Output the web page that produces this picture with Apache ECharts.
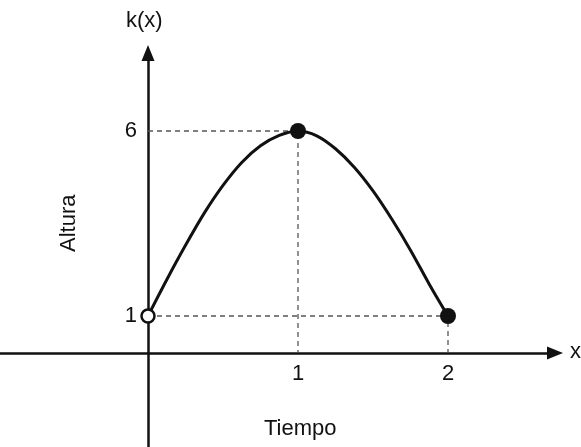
<!DOCTYPE html>
<html lang="es">
<head>
  <meta charset="UTF-8">
  <title>k(x)</title>
  <style>
    * { margin: 0; padding: 0; }
    body { background: #fff; }
    #chart { width: 581px; height: 447px; }
  </style>
</head>
<body>
  <div id="chart"></div>
  <script src="https://cdn.jsdelivr.net/npm/echarts@6/dist/echarts.min.js"></script>
  <script>
    // curve k(x)
    var curveX = [0, 0.125, 0.25, 0.375, 0.5, 0.625, 0.75, 0.875, 1, 1.125, 1.25, 1.375, 1.5, 1.625, 1.75, 1.875, 2]
    var curveY = [1, 1.98, 2.91, 3.78, 4.53, 5.15, 5.6, 5.88, 6, 5.87, 5.52, 5.02, 4.38, 3.62, 2.78, 1.86, 1]
    var xTicks = [1, 2]
    var yTicks = [1, 6]
    var guideTop = [[0, 6], [1, 6], [1, 0]]
    var guideLow = [[0, 1], [2, 1], [2, 0]]
    var filledPts = [[1, 6], [2, 1]]
    var openPts = [[0, 1]]

    var font = 'Liberation Sans, Arial, sans-serif'
    var ink = '#111'

    var curve = curveX.map(function (x, i) { return [x, curveY[i]] })

    var chart = echarts.init(document.getElementById('chart'))
    chart.setOption({
      animation: false,
      grid: { left: 0, right: 26, top: 53, bottom: 0, containLabel: false, outerBoundsMode: 'none' },
      xAxis: {
        type: 'value',
        position: 'bottom',
        offset: -94,   // puts the axis on y = 0
        min: -148 / 150,
        max: 407 / 150,
        splitLine: { show: false },
        axisTick: { show: false },
        axisLine: {
          onZero: false,
          symbol: ['none', 'triangle'],
          symbolSize: [13, 16],
          lineStyle: { color: ink, width: 2.5 }
        },
        axisLabel: {
          customValues: xTicks,
          margin: 10,
          fontSize: 22,
          fontFamily: font,
          color: ink
        }
      },
      yAxis: {
        type: 'value',
        position: 'left',
        offset: -148,  // puts the axis on x = 0
        min: -94 / 37,
        max: 300 / 37,
        splitLine: { show: false },
        axisTick: { show: false },
        axisLine: {
          onZero: false,
          symbol: ['none', 'triangle'],
          symbolSize: [13, 16],
          lineStyle: { color: ink, width: 2.5 }
        },
        axisLabel: {
          customValues: yTicks,
          margin: 11,
          fontSize: 22,
          fontFamily: font,
          color: ink
        }
      },
      graphic: [
        { type: 'text', left: 126, top: 10, style: { text: 'k(x)', font: '22px ' + font, fill: ink } },
        { type: 'text', left: 570, top: 341, style: { text: 'x', font: '22px ' + font, fill: ink } },
        { type: 'text', left: 264, top: 418, style: { text: 'Tiempo', font: '22px ' + font, fill: ink } },
        { type: 'text', x: 58, y: 252, rotation: Math.PI / 2, style: { text: 'Altura', font: '22px ' + font, fill: ink } }
      ],
      series: [
        {
          type: 'line', data: guideTop, symbol: 'none', z: 1,
          lineStyle: { color: '#555', width: 1.3, type: [5, 4] }
        },
        {
          type: 'line', data: guideLow, symbol: 'none', z: 1,
          lineStyle: { color: '#555', width: 1.3, type: [5, 4] }
        },
        {
          type: 'line', data: curve, symbol: 'none', smooth: 0.3, z: 3,
          lineStyle: { color: ink, width: 3 }
        },
        {
          type: 'scatter', data: filledPts, symbolSize: 16, z: 5,
          itemStyle: { color: ink, opacity: 1 }
        },
        {
          type: 'scatter', data: openPts, symbolSize: 13, z: 5,
          itemStyle: { color: '#fff', borderColor: ink, borderWidth: 2.5, opacity: 1 }
        }
      ]
    })
  </script>
</body>
</html>
